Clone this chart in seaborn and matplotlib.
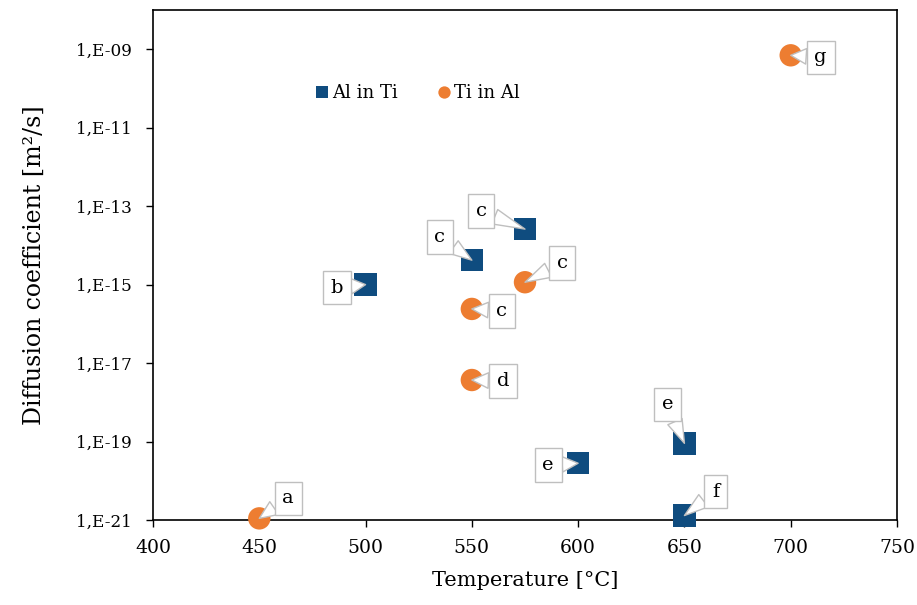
import numpy as np
import pandas as pd
import matplotlib
matplotlib.use("Agg")
import matplotlib.pyplot as plt
import matplotlib.ticker as mticker
import seaborn as sns

# data
al_temp = [500, 550, 575, 600, 650, 650]
al_diff = [1.0e-15, 4.2e-15, 2.6e-14, 2.8e-20, 9.0e-20, 1.3e-21]
al_lab = ["b", "c", "c", "e", "e", "f"]
ti_temp = [450, 550, 575, 550, 700]
ti_diff = [1.1e-21, 2.4e-16, 1.15e-15, 3.7e-18, 7.0e-10]
ti_lab = ["a", "c", "c", "d", "g"]
al_off = [(-29, 3), (-32, -23), (-44, -18), (-30, 2), (-17, -39), (31, -24)]
ti_off = [(29, -20), (30, 2), (37, -19), (31, 1), (30, 2)]

x_ticks = [400, 450, 500, 550, 600, 650, 700, 750]
y_exps = [-21, -19, -17, -15, -13, -11, -9]

df = pd.DataFrame({
    "T": al_temp + ti_temp,
    "D": al_diff + ti_diff,
    "series": ["Al in Ti"] * len(al_temp) + ["Ti in Al"] * len(ti_temp),
})

sns.set_theme(style="white")
plt.rcParams["font.family"] = ["DejaVu Serif"]
plt.rcParams["text.color"] = "black"
plt.rcParams["axes.labelcolor"] = "black"
plt.rcParams["xtick.color"] = "black"
plt.rcParams["ytick.color"] = "black"

fig = plt.figure(figsize=(9.17, 6.05), dpi=100)
ax = fig.add_axes([153/917, 1-520/605, (897-153)/917, (520-10)/605])

blue = "#0F4C7F"
orange = "#ED7D31"
sns.scatterplot(data=df, x="T", y="D", hue="series", style="series",
                markers={"Al in Ti": "s", "Ti in Al": "o"},
                palette={"Al in Ti": blue, "Ti in Al": orange},
                s=260, linewidth=0, ax=ax, zorder=3, legend=True)
for coll in ax.collections:
    coll.set_clip_on(False)

ax.set_yscale("log")
ax.set_xlim(400, 750)
ax.set_ylim(1e-21, 1e-8)
ax.set_xticks(x_ticks)
ax.set_yticks([10.0**e for e in y_exps])
ax.yaxis.set_minor_locator(mticker.NullLocator())
ax.yaxis.set_major_formatter(mticker.FuncFormatter(
    lambda v, p: "1,E-%02d" % round(-np.log10(v))))
ax.tick_params(axis="both", which="major", direction="out", length=5,
               width=1, color="black", left=True, bottom=True,
               labelcolor="black")
ax.tick_params(axis="x", labelsize=13.5, pad=9)
ax.tick_params(axis="y", labelsize=12.2, pad=10)
for s in ax.spines.values():
    s.set_color("black")
    s.set_linewidth(1.2)

ax.set_xlabel("Temperature [°C]", fontsize=15, labelpad=10, color="black")
ax.set_ylabel("Diffusion coefficient [m²/s]", fontsize=17, labelpad=22, color="black")

# callouts
px2pt = 0.72
def callouts(xs, ys, labs, offs):
    for x, y, l, (dx, dy) in zip(xs, ys, labs, offs):
        ax.annotate(l, xy=(x, y), xytext=(dx * px2pt, -dy * px2pt),
                    textcoords="offset points", ha="center", va="center",
                    fontsize=14, zorder=5, color="black", annotation_clip=False,
                    bbox=dict(boxstyle="square,pad=0.4", fc="white",
                              ec="#BFBFBF", lw=1),
                    arrowprops=dict(arrowstyle="wedge,tail_width=0.8,shrink_factor=0.5",
                                    fc="white", ec="#BFBFBF", lw=1,
                                    shrinkA=0, shrinkB=0))
callouts(al_temp, al_diff, al_lab, al_off)
callouts(ti_temp, ti_diff, ti_lab, ti_off)

leg = ax.legend(loc="center", bbox_to_anchor=((416-153)/744, (520-93)/510), ncol=2,
                frameon=False, fontsize=13, handletextpad=0.0,
                columnspacing=2.0, markerscale=0.55, handlelength=1.1)
for t in leg.get_texts():
    t.set_color("black")

fig.savefig("out.png", dpi=100)
